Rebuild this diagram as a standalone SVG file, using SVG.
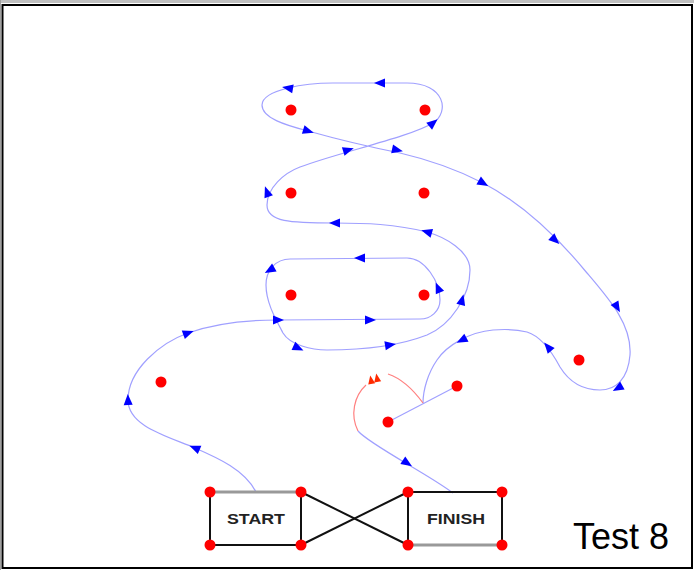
<svg xmlns="http://www.w3.org/2000/svg" xmlns:xlink="http://www.w3.org/1999/xlink" width="694" height="570" viewBox="0 0 694 570">
<style>
.pt{fill:#ff0000}
.ln{fill:none;stroke:#a0a0ff;stroke-width:1.2}
.rd{fill:none;stroke:#ff8080;stroke-width:1.2}
.bk{stroke:#111;stroke-width:2}
.gr{stroke:#999;stroke-width:3}
.lbl{font-family:"Liberation Sans",Arial,sans-serif;font-size:15px;font-weight:bold;fill:#222;text-anchor:middle}
.ttl{font-family:"Liberation Sans",Arial,sans-serif;font-size:36px;fill:#000}
</style>
<defs>
<path id="ah" d="M6,0 L-5,-4.5 L-5,4.5 Z" fill="#0000ff"/>
<path id="ahr" d="M4.5,0 L-4,-3.5 L-4,3.5 Z" fill="#ff2a00"/>
</defs>
<rect x="0" y="0" width="694" height="570" fill="#fff"/>
<rect x="0" y="0" width="694" height="3" fill="#c0c0c0"/>
<rect x="0" y="0" width="1" height="570" fill="#a0a0a0"/>
<rect x="2.5" y="5" width="689.5" height="563" fill="none" stroke="#000" stroke-width="2"/>

<g id="connectors">
<path class="ln" d="M256,492 C245,470 218,458 195,448 C170,437 128,427 128,400 C128,370 160,343 188,333 C216,323 248,320 278,320 L420,319 C431,319 440,311 440,300 C440,282 425,258 407,258 L290,259 C276,259 266,270 266,285 C266,302 275,318 283,333 C290,345 312,350 327,350 C361,350 396,347 427,335 C451,325 470,296 470,270 C470,251 445,237 427,232 C395,224 365,223 335,223 C290,223 267,222 267,205 C267,188 284,173 300,167 C340,152 410,137 433,123 C450,112 445,83 407,83 L333,83 C320,83 300,85 288,88 C272,92 262,98 262,105 C262,118 285,125 308,131 C340,140 370,147 400,153 C430,160 458,170 483,183 C525,205 560,240 587,273 C610,300 632,325 630,355 C628,380 615,390 600,390 C580,390 568,380 560,367 C552,352 540,336 527,332 C515,329 505,329 493,330 C470,332 447,345 437,360 C428,373 423,390 423,403"/>
<path class="ln" d="M388,422 L457,386"/>
<path class="rd" d="M423,403 C412,388 400,378 388,374"/>
<path class="rd" d="M366,385 C354,396 350,415 358,431"/>
<path class="ln" d="M358,431 C370,445 430,475 453,493"/>
<use xlink:href="#ahr" transform="translate(377,378) rotate(-100)"/>
<use xlink:href="#ahr" transform="translate(371,380) rotate(-100)"/>
<use xlink:href="#ah" transform="translate(195,448) rotate(-157)"/>
<use xlink:href="#ah" transform="translate(128,400) rotate(-92)"/>
<use xlink:href="#ah" transform="translate(188,333) rotate(-20)"/>
<use xlink:href="#ah" transform="translate(278,320) rotate(0)"/>
<use xlink:href="#ah" transform="translate(370,320) rotate(0)"/>
<use xlink:href="#ah" transform="translate(438,288) rotate(-113)"/>
<use xlink:href="#ah" transform="translate(360,258) rotate(180)"/>
<use xlink:href="#ah" transform="translate(270,270) rotate(150)"/>
<use xlink:href="#ah" transform="translate(298,348) rotate(25)"/>
<use xlink:href="#ah" transform="translate(390,345) rotate(-9)"/>
<use xlink:href="#ah" transform="translate(462,300) rotate(-75)"/>
<use xlink:href="#ah" transform="translate(427,232) rotate(-164)"/>
<use xlink:href="#ah" transform="translate(335,223) rotate(180)"/>
<use xlink:href="#ah" transform="translate(267,192) rotate(-110)"/>
<use xlink:href="#ah" transform="translate(348,150) rotate(-17)"/>
<use xlink:href="#ah" transform="translate(433,123) rotate(-40)"/>
<use xlink:href="#ah" transform="translate(380,83) rotate(180)"/>
<use xlink:href="#ah" transform="translate(288,88) rotate(190)"/>
<use xlink:href="#ah" transform="translate(308,131) rotate(17)"/>
<use xlink:href="#ah" transform="translate(397,150) rotate(12)"/>
<use xlink:href="#ah" transform="translate(483,183) rotate(30)"/>
<use xlink:href="#ah" transform="translate(555,240) rotate(43)"/>
<use xlink:href="#ah" transform="translate(617,307) rotate(60)"/>
<use xlink:href="#ah" transform="translate(618,388) rotate(150)"/>
<use xlink:href="#ah" transform="translate(548,347) rotate(-130)"/>
<use xlink:href="#ah" transform="translate(462,340) rotate(152)"/>
<use xlink:href="#ah" transform="translate(407,463) rotate(33)"/>
<line class="bk" x1="301" y1="492" x2="408" y2="545"/>
<line class="bk" x1="301" y1="545" x2="408" y2="492"/>
</g>

<g id="n1"><circle class="pt" cx="291" cy="110" r="5.5"/></g>
<g id="n2"><circle class="pt" cx="425" cy="110" r="5.5"/></g>
<g id="n3"><circle class="pt" cx="291" cy="193" r="5.5"/></g>
<g id="n4"><circle class="pt" cx="424" cy="193" r="5.5"/></g>
<g id="n5"><circle class="pt" cx="291" cy="295" r="5.5"/></g>
<g id="n6"><circle class="pt" cx="424" cy="295" r="5.5"/></g>
<g id="n7"><circle class="pt" cx="161" cy="382" r="5.5"/></g>
<g id="n8"><circle class="pt" cx="579" cy="360" r="5.5"/></g>
<g id="n9"><circle class="pt" cx="457" cy="386" r="5.5"/></g>
<g id="n10"><circle class="pt" cx="388" cy="422" r="5.5"/></g>

<g id="start">
<line class="gr" x1="210" y1="492" x2="301" y2="492"/>
<line class="bk" x1="210" y1="492" x2="210" y2="545"/>
<line class="bk" x1="210" y1="545" x2="301" y2="545"/>
<line class="bk" x1="301" y1="492" x2="301" y2="545" stroke="#555"/>
<text class="lbl" x="256" y="524" textLength="58" lengthAdjust="spacingAndGlyphs">START</text>
<circle class="pt" cx="210" cy="492" r="5.5"/>
<circle class="pt" cx="301" cy="492" r="5.5"/>
<circle class="pt" cx="210" cy="545" r="5.5"/>
<circle class="pt" cx="301" cy="545" r="5.5"/>
</g>

<g id="finish">
<line class="bk" x1="408" y1="492" x2="502" y2="492"/>
<line class="bk" x1="502" y1="492" x2="502" y2="545"/>
<line class="gr" x1="408" y1="545" x2="502" y2="545"/>
<line class="bk" x1="408" y1="492" x2="408" y2="545" stroke="#555"/>
<text class="lbl" x="456" y="524" textLength="58" lengthAdjust="spacingAndGlyphs">FINISH</text>
<circle class="pt" cx="408" cy="492" r="5.5"/>
<circle class="pt" cx="502" cy="492" r="5.5"/>
<circle class="pt" cx="408" cy="545" r="5.5"/>
<circle class="pt" cx="502" cy="545" r="5.5"/>
</g>

<text class="ttl" x="573" y="549">Test 8</text>
</svg>
